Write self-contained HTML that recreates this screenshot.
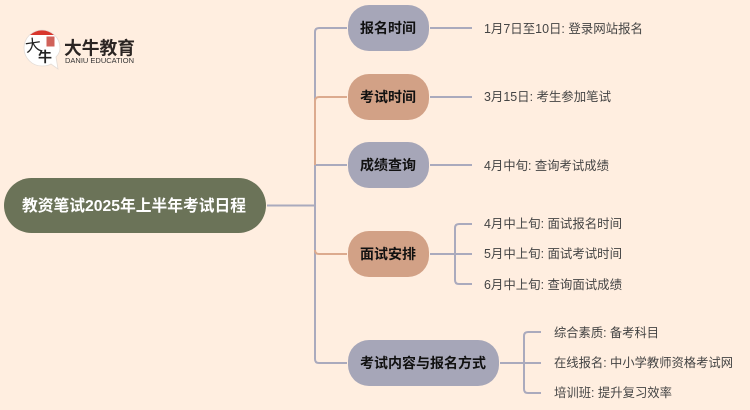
<!DOCTYPE html>
<html><head><meta charset="utf-8"><style>
html,body{margin:0;padding:0;background:#ffeee0}
svg{display:block}
text{font-family:"Liberation Sans","Noto Sans CJK SC",sans-serif}
.n{font-size:14px;font-weight:700;fill:#111}
.l{font-size:12.5px;fill:#444}
</style></head><body>
<svg width="750" height="410" viewBox="0 0 750 410" xmlns="http://www.w3.org/2000/svg">
<rect width="750" height="410" fill="#ffeee0"/>
<g fill="none" stroke="#aaaabd" stroke-width="2">
<path d="M267 205.500H315"/>
<path d="M347 28H319Q315 28 315 32V359Q315 363 319 363H347"/>
<path d="M315 165Q315 165 319 165H347"/>
<path d="M430 28H472M430 97H472M430 165H472"/>
<path d="M430 254H472M472 224H459Q455 224 455 228V280Q455 284 459 284H472"/>
<path d="M500 363H541M541 332H528Q524 332 524 336V389Q524 393 528 393H541"/>
</g>
<g fill="none" stroke="#dcaa8e" stroke-width="2">
<path d="M315 165V101Q315 97 319 97H347"/>
<path d="M315 250Q315 254 319 254H347"/>
</g>
<rect x="4" y="178" width="262" height="55" rx="27.500" fill="#6b7358"/>
<rect x="348" y="5" width="81" height="46" rx="21" fill="#a6a6b8"/>
<rect x="348" y="74" width="81" height="46" rx="21" fill="#d2a186"/>
<rect x="348" y="142" width="81" height="46" rx="21" fill="#a6a6b8"/>
<rect x="348" y="231" width="81" height="46" rx="21" fill="#d2a186"/>
<rect x="348" y="340" width="151" height="46" rx="21" fill="#a6a6b8"/>
<text x="22" y="211" font-size="16" font-weight="700" fill="#fff" textLength="224" lengthAdjust="spacingAndGlyphs">教资笔试2025年上半年考试日程</text>
<text class="n" x="360" y="33">报名时间</text>
<text class="n" x="360" y="102">考试时间</text>
<text class="n" x="360" y="170">成绩查询</text>
<text class="n" x="360" y="259">面试安排</text>
<text class="n" x="360" y="368">考试内容与报名方式</text>
<text class="l" x="484" y="33" textLength="159" lengthAdjust="spacingAndGlyphs">1月7日至10日: 登录网站报名</text>
<text class="l" x="484" y="101" textLength="127" lengthAdjust="spacingAndGlyphs">3月15日: 考生参加笔试</text>
<text class="l" x="484" y="170" textLength="125" lengthAdjust="spacingAndGlyphs">4月中旬: 查询考试成绩</text>
<text class="l" x="484" y="228" textLength="138" lengthAdjust="spacingAndGlyphs">4月中上旬: 面试报名时间</text>
<text class="l" x="484" y="258" textLength="138" lengthAdjust="spacingAndGlyphs">5月中上旬: 面试考试时间</text>
<text class="l" x="484" y="289" textLength="138" lengthAdjust="spacingAndGlyphs">6月中上旬: 查询面试成绩</text>
<text class="l" x="554" y="337" textLength="105" lengthAdjust="spacingAndGlyphs">综合素质: 备考科目</text>
<text class="l" x="554" y="367" textLength="179" lengthAdjust="spacingAndGlyphs">在线报名: 中小学教师资格考试网</text>
<text class="l" x="554" y="397" textLength="118" lengthAdjust="spacingAndGlyphs">培训班: 提升复习效率</text>
<path d="M42 30A18 18 0 0 0 42 66Q48 66 51 64L58 69L56 57Q60 53 60 48A18 18 0 0 0 42 30Z" fill="#fff" stroke="#e4dcd6" stroke-width="0.800"/>
<path d="M30 35A18 18 0 0 1 54 35Z" fill="#d8362c"/>
<rect x="46.500" y="36.500" width="8" height="10" fill="#d0625a"/>
<text x="26" y="52" font-size="16" fill="#222" transform="rotate(-8 26 52)">大</text>
<text x="38" y="62" font-size="14" font-weight="700" fill="#222">牛</text>
<text x="64" y="54.500" font-size="18" font-weight="700" fill="#2b2523" textLength="71" lengthAdjust="spacingAndGlyphs">大牛教育</text>
<text x="65" y="63" font-size="7.500" fill="#333" textLength="69" lengthAdjust="spacingAndGlyphs">DANIU EDUCATION</text>
</svg>
</body></html>
